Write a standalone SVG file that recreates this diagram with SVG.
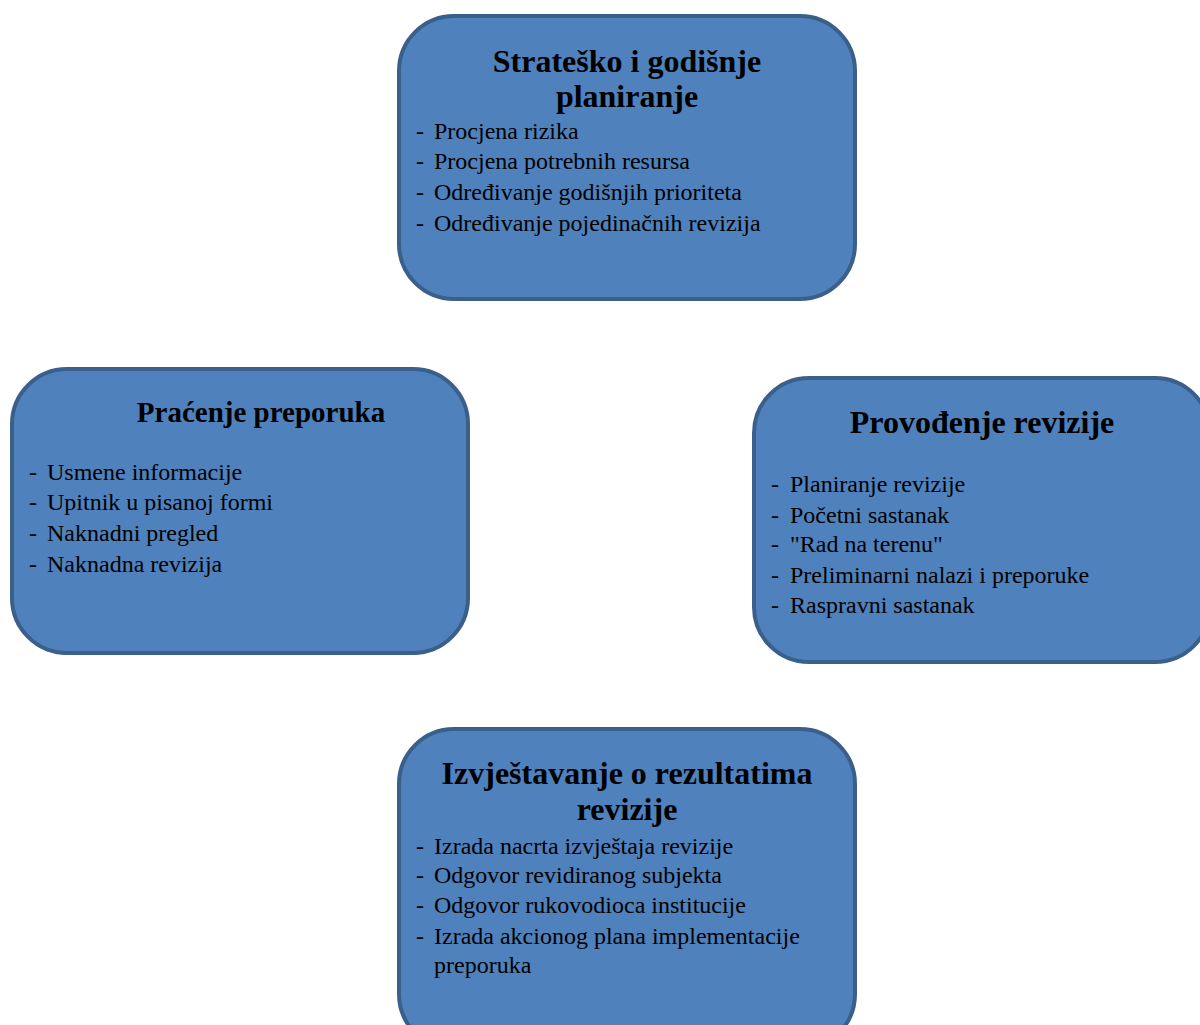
<svg xmlns="http://www.w3.org/2000/svg" width="1200" height="1025" viewBox="0 0 1200 1025">
<style>
.box{fill:#4F81BD;stroke:#3A5F8B;stroke-width:4}
.t{font-family:"Liberation Serif","Times New Roman",serif;font-weight:bold;font-size:32px;fill:#000;text-anchor:middle}
.b{font-family:"Liberation Serif","Times New Roman",serif;font-size:24px;fill:#000}
</style>
<rect width="1200" height="1025" fill="#fff"/>
<g id="connectors"></g>
<g id="node-planiranje">
<rect class="box" x="399" y="16" width="456" height="283" rx="55"/>
<text class="t" x="627" y="72">Strateško i godišnje</text>
<text class="t" x="627" y="107">planiranje</text>
<text class="b" y="139"><tspan x="416">-</tspan><tspan x="434">Procjena rizika</tspan></text>
<text class="b" y="169"><tspan x="416">-</tspan><tspan x="434">Procjena potrebnih resursa</tspan></text>
<text class="b" y="200"><tspan x="416">-</tspan><tspan x="434">Određivanje godišnjih prioriteta</tspan></text>
<text class="b" y="231"><tspan x="416">-</tspan><tspan x="434">Određivanje pojedinačnih revizija</tspan></text>
</g>
<g id="node-pracenje">
<rect class="box" x="12" y="369" width="456" height="284" rx="55"/>
<text class="t" x="261" y="422" style="font-size:29px">Praćenje preporuka</text>
<text class="b" y="480"><tspan x="29">-</tspan><tspan x="47">Usmene informacije</tspan></text>
<text class="b" y="510"><tspan x="29">-</tspan><tspan x="47">Upitnik u pisanoj formi</tspan></text>
<text class="b" y="541"><tspan x="29">-</tspan><tspan x="47">Naknadni pregled</tspan></text>
<text class="b" y="572"><tspan x="29">-</tspan><tspan x="47">Naknadna revizija</tspan></text>
</g>
<g id="node-provodjenje">
<rect class="box" x="754" y="378" width="456" height="284" rx="55"/>
<text class="t" x="982" y="433">Provođenje revizije</text>
<text class="b" y="492"><tspan x="771">-</tspan><tspan x="790">Planiranje revizije</tspan></text>
<text class="b" y="523"><tspan x="771">-</tspan><tspan x="790">Početni sastanak</tspan></text>
<text class="b" y="552"><tspan x="771">-</tspan><tspan x="790">"Rad na terenu"</tspan></text>
<text class="b" y="583"><tspan x="771">-</tspan><tspan x="790">Preliminarni nalazi i preporuke</tspan></text>
<text class="b" y="613"><tspan x="771">-</tspan><tspan x="790">Raspravni sastanak</tspan></text>
</g>
<g id="node-izvjestavanje">
<rect class="box" x="399" y="729" width="456" height="320" rx="55"/>
<text class="t" x="627" y="784">Izvještavanje o rezultatima</text>
<text class="t" x="627" y="820">revizije</text>
<text class="b" y="854"><tspan x="416">-</tspan><tspan x="434">Izrada nacrta izvještaja revizije</tspan></text>
<text class="b" y="883"><tspan x="416">-</tspan><tspan x="434">Odgovor revidiranog subjekta</tspan></text>
<text class="b" y="913"><tspan x="416">-</tspan><tspan x="434">Odgovor rukovodioca institucije</tspan></text>
<text class="b" y="944"><tspan x="416">-</tspan><tspan x="434">Izrada akcionog plana implementacije</tspan></text>
<text class="b" y="973"><tspan x="434">preporuka</tspan></text>
</g>
</svg>
